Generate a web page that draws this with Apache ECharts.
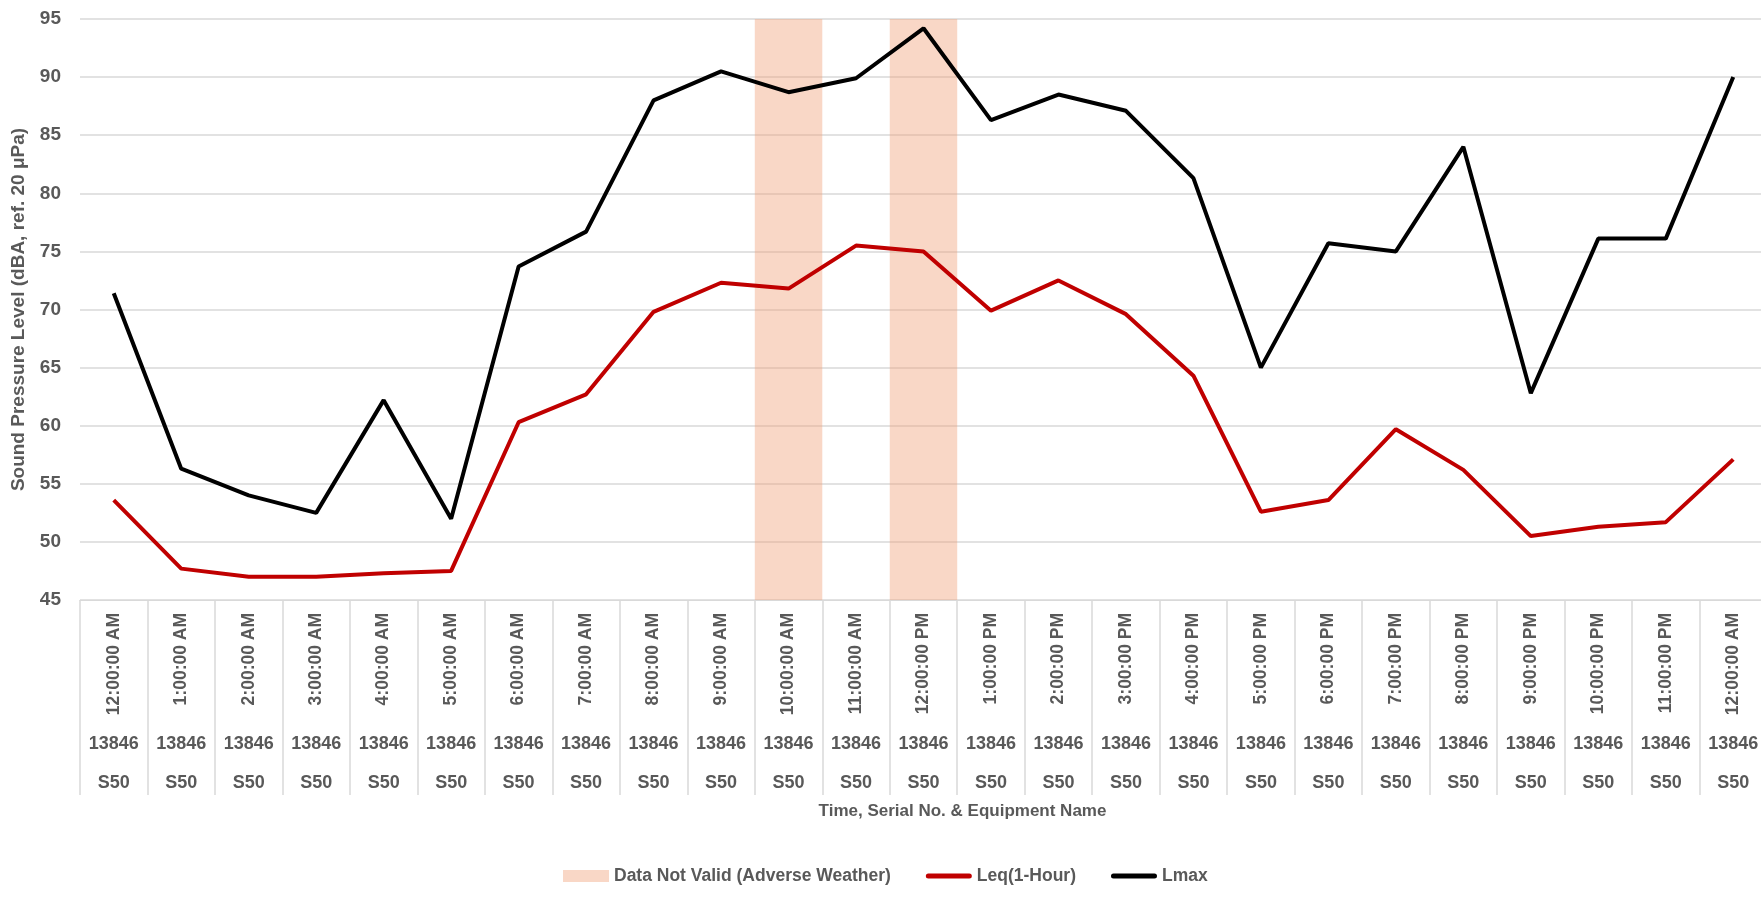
<!DOCTYPE html>
<html>
<head>
<meta charset="utf-8">
<script src="https://cdn.jsdelivr.net/npm/echarts@6/dist/echarts.min.js"></script>
<style>
  html, body { margin: 0; padding: 0; background: #fff; }
  #chart { width: 1761px; height: 904px; }
</style>
</head>
<body>
<div id="chart"></div>
<script>
const hours = [
  '12:00:00 AM', '1:00:00 AM', '2:00:00 AM', '3:00:00 AM', '4:00:00 AM', '5:00:00 AM',
  '6:00:00 AM', '7:00:00 AM', '8:00:00 AM', '9:00:00 AM', '10:00:00 AM', '11:00:00 AM',
  '12:00:00 PM', '1:00:00 PM', '2:00:00 PM', '3:00:00 PM', '4:00:00 PM', '5:00:00 PM',
  '6:00:00 PM', '7:00:00 PM', '8:00:00 PM', '9:00:00 PM', '10:00:00 PM', '11:00:00 PM',
  '12:00:00 AM'
];
const serialNos = hours.map(() => '13846');
const equipment = hours.map(() => 'S50');

const leq = [53.6, 47.7, 47.0, 47.0, 47.3, 47.5, 60.3, 62.7, 69.8, 72.3, 71.8, 75.5,
  75.0, 69.9, 72.5, 69.6, 64.3, 52.6, 53.6, 59.7, 56.2, 50.5, 51.3, 51.7, 57.1];
const lmax = [71.4, 56.3, 54.0, 52.5, 62.2, 52.0, 73.7, 76.7, 88.0, 90.5, 88.7, 89.9,
  94.2, 86.3, 88.5, 87.1, 81.3, 65.0, 75.7, 75.0, 84.0, 62.8, 76.1, 76.1, 90.0];

// hours flagged as invalid (adverse weather)
const invalidIdx = [10, 12];

const yMin = 45;
const yMax = 95;

const chart = echarts.init(document.getElementById('chart'));

const labelFont = {
  color: '#595959',
  fontFamily: 'Liberation Sans, Arial, sans-serif',
  fontWeight: 'bold',
  fontSize: 18
};

// thin rounded bar, used as legend icon for the lines
const lineIcon = 'path://M2.5,0 L43.5,0 A2.5,2.5 0 0 1 43.5,5 L2.5,5 A2.5,2.5 0 0 1 2.5,0 Z';

const extraAxis = (data, margin) => ({
  type: 'category',
  data: data,
  position: 'bottom',
  offset: 0,
  gridIndex: 0,
  axisLine: { show: false },
  axisTick: { show: false },
  splitLine: { show: false },
  axisLabel: Object.assign({ interval: 0, margin: margin }, labelFont)
});

const option = {
  animation: false,
  grid: {
    left: 80,
    top: 19,
    width: 1687,
    height: 581,
    containLabel: false,
    outerBoundsMode: 'none'
  },
  legend: {
    left: 558,
    top: 862,
    itemWidth: 46,
    itemHeight: 12,
    itemGap: 35,
    data: [
      { name: 'Data Not Valid (Adverse Weather)', icon: 'rect' },
      { name: 'Leq(1-Hour)', icon: lineIcon },
      { name: 'Lmax', icon: lineIcon }
    ],
    textStyle: Object.assign({}, labelFont, { fontSize: 17.5 })
  },
  xAxis: [
    {
      type: 'category',
      data: hours,
      boundaryGap: true,
      position: 'bottom',
      offset: 0,
      axisLine: { lineStyle: { color: '#d9d9d9', width: 1 } },
      axisTick: { show: true, interval: 0, length: 195, lineStyle: { color: '#d9d9d9', width: 1.5 } },
      axisLabel: Object.assign({ interval: 0, rotate: 90, margin: 13 }, labelFont, { fontSize: 17.5 }),
      name: 'Time, Serial No. & Equipment Name',
      nameLocation: 'middle',
      nameGap: 203,
      nameTextStyle: Object.assign({}, labelFont, { fontSize: 17, padding: [0, 0, 0, 78] })
    },
    extraAxis(serialNos, 135),
    extraAxis(equipment, 174)
  ],
  yAxis: {
    type: 'value',
    min: yMin,
    max: yMax,
    interval: 5,
    axisLine: { show: false },
    axisTick: { show: false },
    splitLine: { lineStyle: { color: '#d9d9d9', width: 1.5 } },
    axisLabel: Object.assign({ margin: 19 }, labelFont, { fontSize: 19 }),
    name: 'Sound Pressure Level (dBA, ref. 20 μPa)',
    nameLocation: 'middle',
    nameGap: 52,
    nameTextStyle: Object.assign({}, labelFont, { fontSize: 19 })
  },
  series: [
    {
      name: 'Data Not Valid (Adverse Weather)',
      type: 'bar',
      barWidth: '100%',
      clip: true,
      itemStyle: { color: 'rgba(240, 160, 120, 0.42)' },
      data: hours.map((h, i) => (invalidIdx.includes(i) ? yMax : null))
    },
    {
      name: 'Leq(1-Hour)',
      type: 'line',
      symbol: 'none',
      lineStyle: { color: '#C00000', width: 4 },
      itemStyle: { color: '#C00000' },
      data: leq
    },
    {
      name: 'Lmax',
      type: 'line',
      symbol: 'none',
      lineStyle: { color: '#000000', width: 4 },
      itemStyle: { color: '#000000' },
      data: lmax
    }
  ]
};

chart.setOption(option);
window.addEventListener('resize', () => chart.resize());
</script>
</body>
</html>
